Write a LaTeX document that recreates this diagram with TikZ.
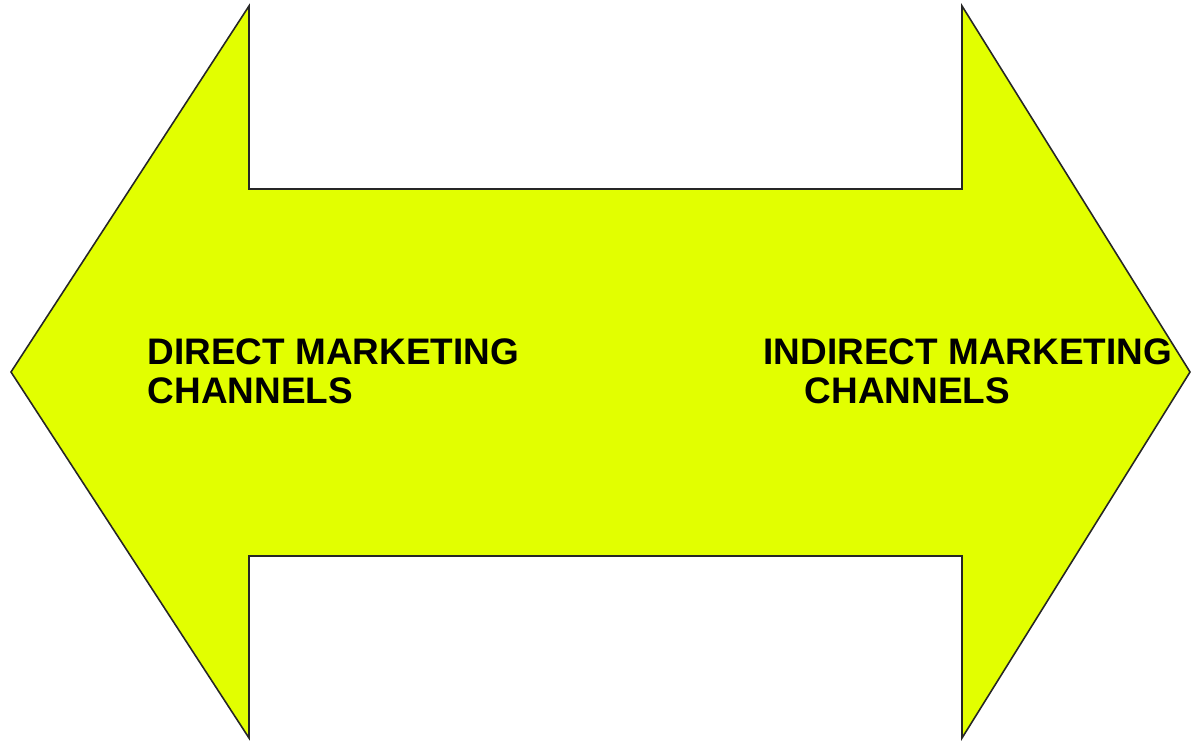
\documentclass[tikz,border=0pt]{standalone}
\usepackage{fontspec}
\setmainfont{Liberation Sans}
\definecolor{arrowyellow}{RGB}{226,255,0}
\tikzset{
	bigarrow/.style={draw=black!85, line width=0.45pt, fill=arrowyellow, line join=miter},
	chanlabel/.style={anchor=base west, inner sep=0pt, font=\fontsize{10.5}{11.2}\selectfont\bfseries},
}

\begin{document}
\begin{tikzpicture}[x=0.01cm, y=-0.01cm]
	\useasboundingbox (0,0) rectangle (1192,740);
	% Double-headed arrow
	\draw[bigarrow] (11,372) -- (249,6) -- (249,189) -- (962,189) -- (962,6) -- (1190,372)
		-- (962,738) -- (962,556) -- (249,556) -- (249,738) -- cycle;
	% Left label
	\node[chanlabel] (directtop) at (147,364) {DIRECT MARKETING};
	\node[chanlabel] (directbot) at (147,403) {CHANNELS};
	% Right label
	\node[chanlabel] (indirecttop) at (763,364) {INDIRECT MARKETING};
	\node[chanlabel] (indirectbot) at (804,403) {CHANNELS};
\end{tikzpicture}
\end{document}
